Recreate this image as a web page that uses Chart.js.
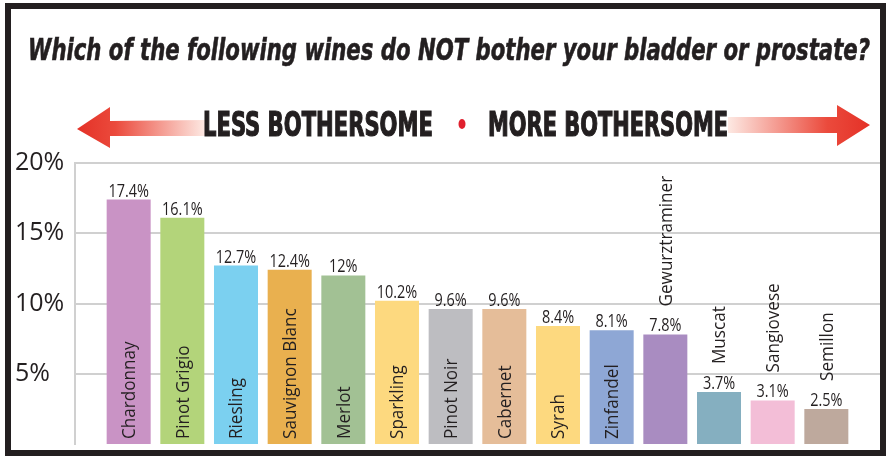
<!DOCTYPE html>
<html>
<head>
<meta charset="utf-8">
<title>Wines and the bladder</title>
<script src="https://cdn.jsdelivr.net/npm/chart.js@4.4.1/dist/chart.umd.min.js"></script>
<style>
	html, body { margin: 0; padding: 0; background: #ffffff; }
	#wrap { width: 890px; height: 462px; position: relative; }
</style>
</head>
<body>
<div id="wrap"><canvas id="wineChart"></canvas></div>
<script>
var wines = ['Chardonnay', 'Pinot Grigio', 'Riesling', 'Sauvignon Blanc', 'Merlot', 'Sparkling', 'Pinot Noir',
	'Cabernet', 'Syrah', 'Zinfandel', 'Gewurztraminer', 'Muscat', 'Sangiovese', 'Semillon'];
var shares = [17.4, 16.1, 12.7, 12.4, 12, 10.2, 9.6, 9.6, 8.4, 8.1, 7.8, 3.7, 3.1, 2.5];
var barColors = ['#c993c5', '#b3d47a', '#7bd0f0', '#e9b04f', '#a2c194', '#fdd97f', '#bdbdc1',
	'#e5bd99', '#fdd97f', '#8ea7d5', '#a98cc1', '#85afc0', '#f3bed7', '#bea99d'];
var yTicks = [5, 10, 15, 20];

var titleText = 'Which of the following wines do NOT bother your bladder or prostate?';
var lessText = 'LESS BOTHERSOME';
var moreText = 'MORE BOTHERSOME';

var ink = '#231f20';
var narrow = '"Liberation Sans Narrow", "DejaVu Sans Condensed", "Liberation Sans", sans-serif';

Chart.defaults.font.family = '"Open Sans", sans-serif';

// draw text squeezed/stretched to a given width
function drawFit(ctx, text, x, y, width, align, bold) {
	var w = ctx.measureText(text).width;
	ctx.save();
	ctx.translate(x, y);
	ctx.scale(width / w, 1);
	ctx.textAlign = align;
	ctx.fillText(text, 0, 0);
	if (bold) {
		ctx.lineWidth = bold;
		ctx.strokeText(text, 0, 0);
	}
	ctx.restore();
}

var barLabels = {
	id: 'barLabels',
	afterDatasetsDraw: function(chart) {
		var ctx = chart.ctx;
		var bars = chart.getDatasetMeta(0).data;
		ctx.save();
		ctx.fillStyle = ink;
		bars.forEach(function(bar, i) {
			// value on top
			ctx.font = '19px "Open Sans", sans-serif';
			ctx.textBaseline = 'alphabetic';
			ctx.save();
			ctx.translate(bar.x, bar.y - 3);
			ctx.scale(0.76, 1);
			ctx.textAlign = 'center';
			ctx.fillText(shares[i] + '%', 0, 0);
			ctx.restore();

			// wine name, rotated
			ctx.font = '19px "Open Sans", sans-serif';
			var len = ctx.measureText(wines[i]).width * 0.9;
			var inside = len + 10 < bar.base - bar.y;
			var start = inside ? bar.base - 5 : bar.y - 28;
			ctx.save();
			ctx.translate(bar.x, start);
			ctx.rotate(-Math.PI / 2);
			ctx.scale(0.9, 1);
			ctx.textAlign = 'left';
			ctx.textBaseline = 'middle';
			ctx.fillText(wines[i], 0, 1);
			ctx.restore();
		});
		ctx.restore();
	}
};

var decor = {
	id: 'decor',
	afterDraw: function(chart) {
		var ctx = chart.ctx;
		ctx.save();

		// title
		ctx.fillStyle = ink;
		ctx.strokeStyle = ink;
		ctx.font = 'italic bold 31px ' + narrow;
		ctx.textBaseline = 'alphabetic';
		drawFit(ctx, titleText, 449, 60, 842, 'center', 0.6);

		// arrows
		var g1 = ctx.createLinearGradient(77, 0, 205, 0);
		g1.addColorStop(0, '#e43127');
		g1.addColorStop(0.3, '#eb4a3c');
		g1.addColorStop(1, '#fde9e3');
		ctx.fillStyle = g1;
		ctx.beginPath();
		ctx.moveTo(77, 129);
		ctx.lineTo(110, 107);
		ctx.lineTo(110, 121);
		ctx.lineTo(205, 120);
		ctx.lineTo(205, 136);
		ctx.lineTo(110, 136);
		ctx.lineTo(110, 148);
		ctx.closePath();
		ctx.fill();

		var g2 = ctx.createLinearGradient(728, 0, 870, 0);
		g2.addColorStop(0, '#fde9e3');
		g2.addColorStop(0.7, '#eb4a3c');
		g2.addColorStop(1, '#e43127');
		ctx.fillStyle = g2;
		ctx.beginPath();
		ctx.moveTo(728, 117);
		ctx.lineTo(837, 117);
		ctx.lineTo(837, 105);
		ctx.lineTo(870, 125);
		ctx.lineTo(837, 146);
		ctx.lineTo(837, 133);
		ctx.lineTo(728, 133);
		ctx.closePath();
		ctx.fill();

		// banner words
		ctx.fillStyle = ink;
		ctx.strokeStyle = ink;
		ctx.font = 'bold 33px ' + narrow;
		drawFit(ctx, lessText, 203, 136, 230, 'left', 1.2);
		drawFit(ctx, moreText, 488, 136, 240, 'left', 1.2);

		ctx.fillStyle = '#e0202e';
		ctx.beginPath();
		ctx.ellipse(462, 124, 3.5, 5, 0, 0, Math.PI * 2);
		ctx.fill();

		// frame
		ctx.strokeStyle = ink;
		ctx.lineWidth = 6;
		ctx.strokeRect(8, 6, 875, 447);
		ctx.restore();
	}
};

var ctx = document.getElementById('wineChart').getContext('2d');
var wineChart = new Chart(ctx, {
	type: 'bar',
	data: {
		datasets: [{
			label: 'Share',
			data: shares.map(function(v, i) { return { x: i, y: v }; }),
			backgroundColor: barColors,
			borderWidth: 0,
			categoryPercentage: 1,
			barPercentage: 0.82
		}]
	},
	options: {
		responsive: true,
		maintainAspectRatio: false,
		animation: false,
		layout: {
			padding: { top: 163, left: 15, right: 10, bottom: 11 }
		},
		plugins: {
			legend: { display: false },
			tooltip: { enabled: false },
			title: { display: false }
		},
		scales: {
			x: {
				type: 'linear',
				display: false,
				offset: false,
				min: -1,
				max: 14
			},
			y: {
				min: 0,
				max: 20,
				afterFit: function(scale) { scale.width = 60; },
				afterBuildTicks: function(scale) {
					scale.ticks = yTicks.map(function(v) { return { value: v }; });
				},
				grid: {
					color: '#d0d0d0',
					lineWidth: 2,
					drawTicks: false
				},
				border: { display: true, color: '#d0d0d0', width: 2 },
				ticks: {
					crossAlign: 'far',
					color: ink,
					font: { size: 25 },
					callback: function(v) { return v + '%'; }
				}
			}
		}
	},
	plugins: [barLabels, decor]
});
</script>
</body>
</html>
